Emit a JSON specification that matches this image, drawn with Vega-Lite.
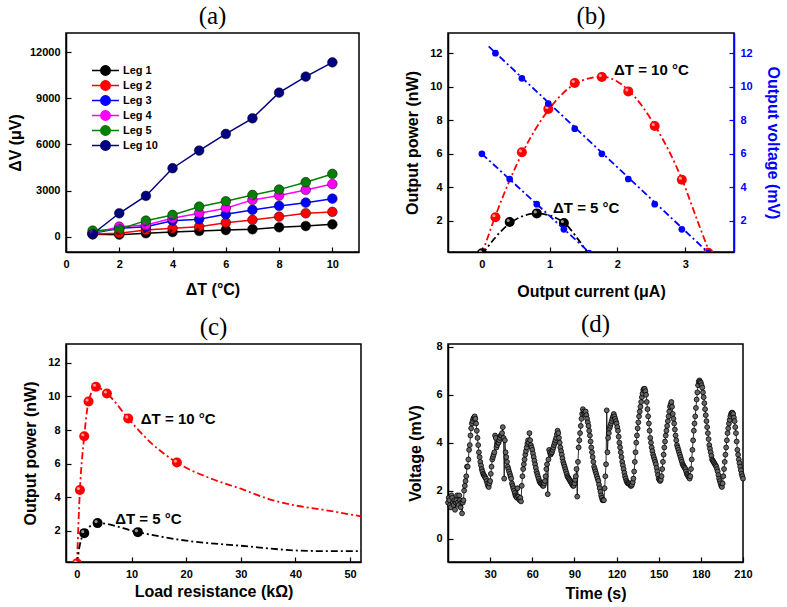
{
  "$schema": "https://vega.github.io/schema/vega-lite/v6.json",
  "padding": {"left": 6, "top": 3, "right": 5, "bottom": 5},
  "background": "white",
  "datasets": {
    "a": [
      {"dT":1,"dV":150,"leg":"Leg 1"},{"dT":2,"dV":130,"leg":"Leg 1"},{"dT":3,"dV":220,"leg":"Leg 1"},{"dT":4,"dV":300,"leg":"Leg 1"},{"dT":5,"dV":370,"leg":"Leg 1"},{"dT":6,"dV":430,"leg":"Leg 1"},{"dT":7,"dV":480,"leg":"Leg 1"},{"dT":8,"dV":610,"leg":"Leg 1"},{"dT":9,"dV":690,"leg":"Leg 1"},{"dT":10,"dV":800,"leg":"Leg 1"},
      {"dT":1,"dV":170,"leg":"Leg 2"},{"dT":2,"dV":220,"leg":"Leg 2"},{"dT":3,"dV":430,"leg":"Leg 2"},{"dT":4,"dV":540,"leg":"Leg 2"},{"dT":5,"dV":650,"leg":"Leg 2"},{"dT":6,"dV":910,"leg":"Leg 2"},{"dT":7,"dV":1090,"leg":"Leg 2"},{"dT":8,"dV":1300,"leg":"Leg 2"},{"dT":9,"dV":1520,"leg":"Leg 2"},{"dT":10,"dV":1610,"leg":"Leg 2"},
      {"dT":1,"dV":220,"leg":"Leg 3"},{"dT":2,"dV":540,"leg":"Leg 3"},{"dT":3,"dV":650,"leg":"Leg 3"},{"dT":4,"dV":1040,"leg":"Leg 3"},{"dT":5,"dV":1130,"leg":"Leg 3"},{"dT":6,"dV":1450,"leg":"Leg 3"},{"dT":7,"dV":1740,"leg":"Leg 3"},{"dT":8,"dV":2000,"leg":"Leg 3"},{"dT":9,"dV":2210,"leg":"Leg 3"},{"dT":10,"dV":2470,"leg":"Leg 3"},
      {"dT":1,"dV":220,"leg":"Leg 4"},{"dT":2,"dV":650,"leg":"Leg 4"},{"dT":3,"dV":760,"leg":"Leg 4"},{"dT":4,"dV":1190,"leg":"Leg 4"},{"dT":5,"dV":1520,"leg":"Leg 4"},{"dT":6,"dV":1850,"leg":"Leg 4"},{"dT":7,"dV":2390,"leg":"Leg 4"},{"dT":8,"dV":2670,"leg":"Leg 4"},{"dT":9,"dV":3040,"leg":"Leg 4"},{"dT":10,"dV":3420,"leg":"Leg 4"},
      {"dT":1,"dV":390,"leg":"Leg 5"},{"dT":2,"dV":480,"leg":"Leg 5"},{"dT":3,"dV":1040,"leg":"Leg 5"},{"dT":4,"dV":1410,"leg":"Leg 5"},{"dT":5,"dV":1950,"leg":"Leg 5"},{"dT":6,"dV":2300,"leg":"Leg 5"},{"dT":7,"dV":2710,"leg":"Leg 5"},{"dT":8,"dV":3060,"leg":"Leg 5"},{"dT":9,"dV":3540,"leg":"Leg 5"},{"dT":10,"dV":4080,"leg":"Leg 5"},
      {"dT":1,"dV":170,"leg":"Leg 10"},{"dT":2,"dV":1520,"leg":"Leg 10"},{"dT":3,"dV":2650,"leg":"Leg 10"},{"dT":4,"dV":4450,"leg":"Leg 10"},{"dT":5,"dV":5600,"leg":"Leg 10"},{"dT":6,"dV":6680,"leg":"Leg 10"},{"dT":7,"dV":7700,"leg":"Leg 10"},{"dT":8,"dV":9370,"leg":"Leg 10"},{"dT":9,"dV":10410,"leg":"Leg 10"},{"dT":10,"dV":11340,"leg":"Leg 10"}
    ],
    "bpts": [
      {"I":0.2,"y":2.22,"kind":"P","dT":"10"},{"I":0.59,"y":6.09,"kind":"P","dT":"10"},{"I":0.98,"y":8.67,"kind":"P","dT":"10"},{"I":1.37,"y":10.22,"kind":"P","dT":"10"},{"I":1.77,"y":10.58,"kind":"P","dT":"10"},{"I":2.16,"y":9.72,"kind":"P","dT":"10"},{"I":2.55,"y":7.66,"kind":"P","dT":"10"},{"I":2.95,"y":4.46,"kind":"P","dT":"10"},{"I":3.34,"y":0.1,"kind":"P","dT":"10"},
      {"I":0.0,"y":0.08,"kind":"P","dT":"5"},{"I":0.41,"y":1.94,"kind":"P","dT":"5"},{"I":0.81,"y":2.45,"kind":"P","dT":"5"},{"I":1.21,"y":1.88,"kind":"P","dT":"5"},
      {"I":0.2,"y":12.0,"kind":"V","dT":"10"},{"I":0.59,"y":10.5,"kind":"V","dT":"10"},{"I":0.98,"y":9.0,"kind":"V","dT":"10"},{"I":1.37,"y":7.5,"kind":"V","dT":"10"},{"I":1.77,"y":6.0,"kind":"V","dT":"10"},{"I":2.16,"y":4.5,"kind":"V","dT":"10"},{"I":2.55,"y":3.0,"kind":"V","dT":"10"},{"I":2.95,"y":1.5,"kind":"V","dT":"10"},{"I":3.34,"y":0.08,"kind":"V","dT":"10"},
      {"I":0.0,"y":6.0,"kind":"V","dT":"5"},{"I":0.41,"y":4.5,"kind":"V","dT":"5"},{"I":0.81,"y":3.0,"kind":"V","dT":"5"},{"I":1.21,"y":1.5,"kind":"V","dT":"5"},{"I":1.58,"y":0.08,"kind":"V","dT":"5"}
    ],
    "bfit": [
      {"I":0.0,"y":0.0,"kind":"P","dT":"10"},{"I":0.2,"y":2.3,"kind":"P","dT":"10"},{"I":0.59,"y":6.0,"kind":"P","dT":"10"},{"I":0.98,"y":8.6,"kind":"P","dT":"10"},{"I":1.37,"y":10.15,"kind":"P","dT":"10"},{"I":1.77,"y":10.6,"kind":"P","dT":"10"},{"I":2.16,"y":9.8,"kind":"P","dT":"10"},{"I":2.55,"y":7.7,"kind":"P","dT":"10"},{"I":2.95,"y":4.5,"kind":"P","dT":"10"},{"I":3.2,"y":1.8,"kind":"P","dT":"10"},{"I":3.37,"y":0.0,"kind":"P","dT":"10"},
      {"I":0.0,"y":0.0,"kind":"P","dT":"5"},{"I":0.41,"y":1.85,"kind":"P","dT":"5"},{"I":0.81,"y":2.45,"kind":"P","dT":"5"},{"I":1.21,"y":1.9,"kind":"P","dT":"5"},{"I":1.42,"y":0.9,"kind":"P","dT":"5"},{"I":1.58,"y":0.0,"kind":"P","dT":"5"},
      {"I":0.1,"y":12.4,"kind":"V","dT":"10"},{"I":3.37,"y":0.0,"kind":"V","dT":"10"},
      {"I":0.0,"y":6.0,"kind":"V","dT":"5"},{"I":1.62,"y":0.0,"kind":"V","dT":"5"}
    ],
    "blbl": [
      {"I":1.95,"y":11.0,"label":"ΔT = 10 °C"},
      {"I":1.05,"y":2.78,"label":"ΔT = 5 °C"}
    ],
    "cpts": [
      {"R":0.0,"P":0.05,"dT":"10"},{"R":0.55,"P":4.42,"dT":"10"},{"R":1.34,"P":7.63,"dT":"10"},{"R":2.13,"P":9.7,"dT":"10"},{"R":3.48,"P":10.58,"dT":"10"},{"R":5.49,"P":10.18,"dT":"10"},{"R":9.39,"P":8.69,"dT":"10"},{"R":18.3,"P":6.06,"dT":"10"},
      {"R":1.34,"P":1.85,"dT":"5"},{"R":3.78,"P":2.45,"dT":"5"},{"R":11.16,"P":1.91,"dT":"5"}
    ],
    "cfit": [
      {"R":0.0,"P":0.0,"dT":"10"},{"R":0.55,"P":4.42,"dT":"10"},{"R":1.34,"P":7.63,"dT":"10"},{"R":2.13,"P":9.7,"dT":"10"},{"R":3.48,"P":10.58,"dT":"10"},{"R":5.49,"P":10.18,"dT":"10"},{"R":9.39,"P":8.69,"dT":"10"},{"R":13.5,"P":7.25,"dT":"10"},{"R":18.3,"P":6.06,"dT":"10"},{"R":25,"P":5.05,"dT":"10"},{"R":30,"P":4.5,"dT":"10"},{"R":35,"P":3.9,"dT":"10"},{"R":40,"P":3.5,"dT":"10"},{"R":45,"P":3.25,"dT":"10"},{"R":52,"P":2.85,"dT":"10"},
      {"R":0.0,"P":0.0,"dT":"5"},{"R":0.5,"P":1.1,"dT":"5"},{"R":1.34,"P":1.85,"dT":"5"},{"R":3.78,"P":2.45,"dT":"5"},{"R":11.16,"P":1.91,"dT":"5"},{"R":20,"P":1.4,"dT":"5"},{"R":30,"P":1.1,"dT":"5"},{"R":40,"P":0.82,"dT":"5"},{"R":45,"P":0.78,"dT":"5"},{"R":52,"P":0.78,"dT":"5"}
    ],
    "clbl": [
      {"R":11.7,"P":8.67,"label":"ΔT = 10 °C"},
      {"R":7.0,"P":2.69,"label":"ΔT = 5 °C"}
    ],
    "d": [
      {"t":0,"v":1.5},{"t":0.5,"v":1.7},{"t":1,"v":1.6},{"t":1.5,"v":1.4},{"t":2,"v":1.3},{"t":2.5,"v":1.8},{"t":3,"v":1.7},{"t":3.5,"v":1.5},{"t":4,"v":1.4},{"t":4.5,"v":1.6},{"t":5,"v":1.2},{"t":5.5,"v":1.5},{"t":6,"v":1.6},{"t":6.5,"v":1.8},{"t":7,"v":1.5},{"t":7.5,"v":1.4},{"t":8,"v":1.8},{"t":8.5,"v":1.6},{"t":9,"v":1.3},{"t":9.5,"v":1.5},{"t":10,"v":1.05},{"t":10.5,"v":1.5},
      {"t":11,"v":1.6},{"t":11.5,"v":2.0},{"t":12,"v":2.2},{"t":12.5,"v":2.4},{"t":13,"v":2.6},{"t":13.5,"v":3.0},{"t":14,"v":3.0},{"t":14.5,"v":3.3},{"t":15,"v":3.7},{"t":15.5,"v":3.9},{"t":16,"v":4.3},{"t":16.5,"v":4.6},{"t":17,"v":4.8},{"t":17.5,"v":4.9},{"t":18,"v":5.0},{"t":18.5,"v":5.05},{"t":19,"v":5.1},{"t":19.5,"v":5.0},{"t":20,"v":4.8},{"t":20.5,"v":4.5},
      {"t":21,"v":4.2},{"t":21.5,"v":3.9},{"t":22,"v":3.6},{"t":22.5,"v":3.4},{"t":23,"v":3.2},{"t":23.5,"v":3.05},{"t":24,"v":2.9},{"t":24.5,"v":2.8},{"t":25,"v":2.7},{"t":25.5,"v":2.65},{"t":26,"v":2.6},{"t":26.5,"v":2.55},{"t":27,"v":2.5},{"t":27.5,"v":2.4},{"t":28,"v":2.3},{"t":28.5,"v":2.2},{"t":29,"v":2.15},{"t":29.5,"v":2.3},{"t":30,"v":2.4},{"t":30.5,"v":2.7},
      {"t":31,"v":3.0},{"t":31.5,"v":3.3},{"t":32,"v":3.4},{"t":32.5,"v":3.5},{"t":33,"v":3.6},{"t":33.5,"v":4.3},{"t":34,"v":4.2},{"t":34.5,"v":3.8},{"t":35,"v":3.9},{"t":35.5,"v":4.0},{"t":36,"v":4.0},{"t":36.5,"v":4.1},{"t":37,"v":4.2},{"t":37.5,"v":4.3},{"t":38,"v":4.3},{"t":38.5,"v":4.4},{"t":39,"v":4.65},{"t":39.5,"v":4.2},{"t":40,"v":2.5},{"t":40.5,"v":4.1},
      {"t":41,"v":3.6},{"t":41.5,"v":3.4},{"t":42,"v":3.2},{"t":42.5,"v":3.0},{"t":43,"v":2.9},{"t":43.5,"v":2.8},{"t":44,"v":2.7},{"t":44.5,"v":2.6},{"t":45,"v":2.5},{"t":45.5,"v":2.3},{"t":46,"v":2.2},{"t":46.5,"v":2.1},{"t":47,"v":2.0},{"t":47.5,"v":1.9},{"t":48,"v":1.8},{"t":48.5,"v":1.75},{"t":49,"v":1.7},{"t":49.5,"v":2.1},{"t":50,"v":1.75},{"t":50.5,"v":1.65},
      {"t":51,"v":1.6},{"t":51.5,"v":1.7},{"t":52,"v":1.55},{"t":52.5,"v":2.2},{"t":53,"v":2.6},{"t":53.5,"v":2.9},{"t":54,"v":3.1},{"t":54.5,"v":3.3},{"t":55,"v":3.5},{"t":55.5,"v":3.65},{"t":56,"v":3.8},{"t":56.5,"v":3.95},{"t":57,"v":4.1},{"t":57.5,"v":4.0},{"t":58,"v":4.4},{"t":58.5,"v":4.1},{"t":59,"v":3.9},{"t":59.5,"v":3.8},{"t":60,"v":3.7},{"t":60.5,"v":3.55},
      {"t":61,"v":3.4},{"t":61.5,"v":3.25},{"t":62,"v":3.1},{"t":62.5,"v":2.95},{"t":63,"v":2.8},{"t":63.5,"v":2.7},{"t":64,"v":2.6},{"t":64.5,"v":2.5},{"t":65,"v":2.4},{"t":65.5,"v":2.35},{"t":66,"v":2.3},{"t":66.5,"v":2.3},{"t":67,"v":2.25},{"t":67.5,"v":2.2},{"t":68,"v":2.2},{"t":68.5,"v":2.3},{"t":69,"v":2.4},{"t":69.5,"v":2.6},{"t":70,"v":2.9},{"t":70.5,"v":3.1},
      {"t":71,"v":1.85},{"t":71.5,"v":3.3},{"t":72,"v":3.7},{"t":72.5,"v":3.6},{"t":73,"v":3.5},{"t":73.5,"v":3.55},{"t":74,"v":3.6},{"t":74.5,"v":3.7},{"t":75,"v":3.8},{"t":75.5,"v":3.9},{"t":76,"v":4.0},{"t":76.5,"v":4.1},{"t":77,"v":4.2},{"t":77.5,"v":4.35},{"t":78,"v":4.5},{"t":78.5,"v":4.4},{"t":79,"v":4.2},{"t":79.5,"v":4.0},{"t":80,"v":3.8},{"t":80.5,"v":3.65},
      {"t":81,"v":3.5},{"t":81.5,"v":3.35},{"t":82,"v":3.2},{"t":82.5,"v":3.1},{"t":83,"v":3.0},{"t":83.5,"v":2.9},{"t":84,"v":2.8},{"t":84.5,"v":2.7},{"t":85,"v":2.6},{"t":85.5,"v":2.55},{"t":86,"v":2.5},{"t":86.5,"v":2.45},{"t":87,"v":2.4},{"t":87.5,"v":2.35},{"t":88,"v":2.3},{"t":88.5,"v":2.25},{"t":89,"v":2.2},{"t":89.5,"v":2.2},{"t":90,"v":2.3},{"t":90.5,"v":2.45},
      {"t":91,"v":2.6},{"t":91.5,"v":2.9},{"t":92,"v":1.75},{"t":92.5,"v":3.2},{"t":93,"v":3.8},{"t":93.5,"v":4.1},{"t":94,"v":4.4},{"t":94.5,"v":4.7},{"t":95,"v":5.0},{"t":95.5,"v":5.2},{"t":96,"v":5.4},{"t":96.5,"v":5.3},{"t":97,"v":5.2},{"t":97.5,"v":5.25},{"t":98,"v":5.3},{"t":98.5,"v":5.15},{"t":99,"v":5.0},{"t":99.5,"v":4.85},{"t":100,"v":4.7},{"t":100.5,"v":4.5},
      {"t":101,"v":4.3},{"t":101.5,"v":4.05},{"t":102,"v":3.8},{"t":102.5,"v":3.6},{"t":103,"v":3.4},{"t":103.5,"v":3.2},{"t":104,"v":3.0},{"t":104.5,"v":2.9},{"t":105,"v":2.8},{"t":105.5,"v":2.7},{"t":106,"v":2.6},{"t":106.5,"v":2.5},{"t":107,"v":2.4},{"t":107.5,"v":2.25},{"t":108,"v":2.1},{"t":108.5,"v":1.95},{"t":109,"v":1.8},{"t":109.5,"v":1.7},{"t":110,"v":1.6},{"t":110.5,"v":1.6},
      {"t":111,"v":1.6},{"t":111.5,"v":2.1},{"t":112,"v":2.6},{"t":112.5,"v":3.1},{"t":113,"v":5.35},{"t":113.5,"v":3.6},{"t":114,"v":4.2},{"t":114.5,"v":4.4},{"t":115,"v":4.6},{"t":115.5,"v":4.7},{"t":116,"v":4.8},{"t":116.5,"v":4.9},{"t":117,"v":5.0},{"t":117.5,"v":5.1},{"t":118,"v":5.2},{"t":118.5,"v":5.1},{"t":119,"v":5.0},{"t":119.5,"v":4.9},{"t":120,"v":4.8},{"t":120.5,"v":4.65},
      {"t":121,"v":4.5},{"t":121.5,"v":4.25},{"t":122,"v":4.0},{"t":122.5,"v":3.8},{"t":123,"v":3.6},{"t":123.5,"v":3.4},{"t":124,"v":3.2},{"t":124.5,"v":3.05},{"t":125,"v":2.9},{"t":125.5,"v":2.75},{"t":126,"v":2.6},{"t":126.5,"v":2.5},{"t":127,"v":2.4},{"t":127.5,"v":2.35},{"t":128,"v":2.3},{"t":128.5,"v":2.3},{"t":129,"v":2.3},{"t":129.5,"v":2.25},{"t":130,"v":2.2},{"t":130.5,"v":2.2},
      {"t":131,"v":2.25},{"t":131.5,"v":2.35},{"t":132,"v":2.5},{"t":132.5,"v":2.8},{"t":133,"v":3.2},{"t":133.5,"v":3.6},{"t":134,"v":4.0},{"t":134.5,"v":4.3},{"t":135,"v":4.6},{"t":135.5,"v":4.85},{"t":136,"v":5.1},{"t":136.5,"v":5.3},{"t":137,"v":5.5},{"t":137.5,"v":5.7},{"t":138,"v":5.9},{"t":138.5,"v":6.05},{"t":139,"v":6.2},{"t":139.5,"v":6.25},{"t":140,"v":6.25},{"t":140.5,"v":6.15},
      {"t":141,"v":6.0},{"t":141.5,"v":5.7},{"t":142,"v":5.4},{"t":142.5,"v":5.1},{"t":143,"v":4.8},{"t":143.5,"v":4.5},{"t":144,"v":4.2},{"t":144.5,"v":4.0},{"t":145,"v":3.8},{"t":145.5,"v":3.65},{"t":146,"v":3.5},{"t":146.5,"v":3.4},{"t":147,"v":3.3},{"t":147.5,"v":3.2},{"t":148,"v":3.1},{"t":148.5,"v":2.95},{"t":149,"v":2.8},{"t":149.5,"v":2.65},{"t":150,"v":2.5},{"t":150.5,"v":2.45},
      {"t":151,"v":2.4},{"t":151.5,"v":2.45},{"t":152,"v":2.6},{"t":152.5,"v":2.9},{"t":153,"v":3.2},{"t":153.5,"v":3.5},{"t":154,"v":3.8},{"t":154.5,"v":4.05},{"t":155,"v":4.3},{"t":155.5,"v":4.5},{"t":156,"v":4.7},{"t":156.5,"v":4.9},{"t":157,"v":5.1},{"t":157.5,"v":5.3},{"t":158,"v":5.5},{"t":158.5,"v":5.6},{"t":159,"v":5.7},{"t":159.5,"v":5.5},{"t":160,"v":5.2},{"t":160.5,"v":5.0},
      {"t":161,"v":4.8},{"t":161.5,"v":4.55},{"t":162,"v":4.3},{"t":162.5,"v":4.1},{"t":163,"v":3.9},{"t":163.5,"v":3.8},{"t":164,"v":3.7},{"t":164.5,"v":3.6},{"t":165,"v":3.5},{"t":165.5,"v":3.4},{"t":166,"v":3.3},{"t":166.5,"v":3.2},{"t":167,"v":3.1},{"t":167.5,"v":3.05},{"t":168,"v":3.0},{"t":168.5,"v":2.95},{"t":169,"v":2.9},{"t":169.5,"v":2.8},{"t":170,"v":2.7},{"t":170.5,"v":2.65},
      {"t":171,"v":2.6},{"t":171.5,"v":2.55},{"t":172,"v":2.5},{"t":172.5,"v":2.6},{"t":173,"v":2.9},{"t":173.5,"v":3.3},{"t":174,"v":3.7},{"t":174.5,"v":4.1},{"t":175,"v":4.5},{"t":175.5,"v":4.8},{"t":176,"v":5.1},{"t":176.5,"v":5.45},{"t":177,"v":5.8},{"t":177.5,"v":6.1},{"t":178,"v":6.4},{"t":178.5,"v":6.55},{"t":179,"v":6.6},{"t":179.5,"v":6.55},{"t":180,"v":6.5},{"t":180.5,"v":6.4},
      {"t":181,"v":6.3},{"t":181.5,"v":6.1},{"t":182,"v":5.9},{"t":182.5,"v":5.65},{"t":183,"v":5.4},{"t":183.5,"v":5.15},{"t":184,"v":4.9},{"t":184.5,"v":4.65},{"t":185,"v":4.4},{"t":185.5,"v":4.15},{"t":186,"v":3.9},{"t":186.5,"v":3.75},{"t":187,"v":3.6},{"t":187.5,"v":3.45},{"t":188,"v":3.3},{"t":188.5,"v":3.25},{"t":189,"v":3.2},{"t":189.5,"v":3.15},{"t":190,"v":3.1},{"t":190.5,"v":3.05},
      {"t":191,"v":3.0},{"t":191.5,"v":2.9},{"t":192,"v":2.8},{"t":192.5,"v":2.65},{"t":193,"v":2.5},{"t":193.5,"v":2.4},{"t":194,"v":2.3},{"t":194.5,"v":2.2},{"t":195,"v":2.15},{"t":195.5,"v":2.3},{"t":196,"v":2.6},{"t":196.5,"v":2.9},{"t":197,"v":3.2},{"t":197.5,"v":3.5},{"t":198,"v":3.8},{"t":198.5,"v":4.1},{"t":199,"v":4.4},{"t":199.5,"v":4.6},{"t":200,"v":4.8},{"t":200.5,"v":4.95},
      {"t":201,"v":5.1},{"t":201.5,"v":5.2},{"t":202,"v":5.25},{"t":202.5,"v":5.25},{"t":203,"v":5.2},{"t":203.5,"v":5.05},{"t":204,"v":4.9},{"t":204.5,"v":4.65},{"t":205,"v":4.4},{"t":205.5,"v":4.05},{"t":206,"v":3.7},{"t":206.5,"v":3.5},{"t":207,"v":3.3},{"t":207.5,"v":3.15},{"t":208,"v":3.0},{"t":208.5,"v":2.85},{"t":209,"v":2.7},{"t":209.5,"v":2.6},{"t":210,"v":2.5}
    ]
  },
  "config": {
    "view": {"stroke": "black", "strokeWidth": 1.5},
    "axis": {
      "labelFont": "Liberation Sans", "labelFontWeight": "bold", "labelFontSize": 11, "labelColor": "black",
      "titleFont": "Liberation Sans", "titleFontWeight": "bold", "titleFontSize": 16, "titleColor": "black",
      "domainColor": "black", "domainWidth": 1.5, "tickColor": "black", "tickSize": -5, "tickWidth": 1.2,
      "grid": false, "labelPadding": 11, "labelFlush": false, "labelOverlap": false
    },
    "title": {"font": "Liberation Serif", "fontSize": 25, "fontWeight": "normal", "color": "black", "offset": 4},
    "text": {"font": "Liberation Sans", "fontWeight": "bold", "fontSize": 15}
  },
  "columns": 2,
  "spacing": {"row": 92, "column": 87},
  "bounds": "flush",
  "resolve": {"scale": {"color": "independent"}},
  "concat": [
        {
          "title": "(a)",
          "width": 293, "height": 219,
          "data": {"name": "a"},
          "encoding": {
            "x": {"field": "dT", "type": "quantitative", "scale": {"domain": [0, 11], "nice": false, "zero": false}, "axis": {"values": [0,2,4,6,8,10], "title": "ΔT (°C)", "titlePadding": 12}},
            "y": {"field": "dV", "type": "quantitative", "scale": {"domain": [-1000, 13250], "nice": false, "zero": false}, "axis": {"values": [0,3000,6000,9000,12000], "format": "d", "title": "ΔV (μV)", "titlePadding": 6}},
            "color": {
              "field": "leg", "type": "nominal",
              "scale": {"domain": ["Leg 1","Leg 2","Leg 3","Leg 4","Leg 5","Leg 10"], "range": ["#000000","#ff0000","#0000ff","#ff00ff","#008000","#000080"]},
              "legend": {
                "orient": "none", "legendX": 33, "legendY": 31, "title": null, "padding": 0,
                "symbolType": "M-2.46,0H2.46M0.86,0A0.86,0.86,0,1,1,-0.86,0A0.86,0.86,0,1,1,0.86,0Z",
                "symbolSize": 120, "symbolStrokeWidth": 1.5,
                "labelFont": "Liberation Sans", "labelFontWeight": "bold", "labelFontSize": 11, "labelColor": "black",
                "labelOffset": 11, "rowPadding": -2.6,
                "encode": {"symbols": {"update": {"fill": {"scale": "color", "field": "value"}, "stroke": {"scale": "color", "field": "value"}, "opacity": {"value": 1}}}}
              }
            }
          },
          "layer": [
            {"mark": {"type": "line", "strokeWidth": 1.5}},
            {"mark": {"type": "point", "filled": true, "size": 95, "opacity": 1, "stroke": "#111111", "strokeWidth": 0.5}},
            {"mark": {"type": "point", "filled": true, "size": 10, "opacity": 0.6, "color": "white", "xOffset": -1.5, "yOffset": -1.5}}
          ]
        },
        {
          "title": "(b)",
          "width": 286, "height": 219,
          "layer": [
            {
              "layer": [
                {
                  "data": {"name": "bfit"},
                  "transform": [{"filter": "datum.kind == 'P'"}],
                  "mark": {"type": "line", "strokeDash": [7,3,2,3], "strokeWidth": 1.8, "clip": true, "interpolate": "monotone"},
                  "encoding": {
                    "x": {"field": "I", "type": "quantitative", "scale": {"domain": [-0.5, 3.72], "nice": false, "zero": false}, "axis": {"values": [0,1,2,3], "format": "d", "title": "Output current (μA)", "titlePadding": 14}},
                    "y": {"field": "y", "type": "quantitative", "scale": {"domain": [0.15, 13.2], "nice": false, "zero": false}, "axis": {"values": [2,4,6,8,10,12], "title": "Output power (nW)", "titlePadding": 9}},
                    "color": {"field": "dT", "type": "nominal", "scale": {"domain": ["10","5"], "range": ["#ff0000","#000000"]}, "legend": null}
                  }
                },
                {
                  "data": {"name": "bpts"},
                  "transform": [{"filter": "datum.kind == 'P'"}],
                  "mark": {"type": "point", "filled": true, "size": 100, "opacity": 1, "clip": true},
                  "encoding": {
                    "x": {"field": "I", "type": "quantitative"},
                    "y": {"field": "y", "type": "quantitative"},
                    "color": {"field": "dT", "type": "nominal", "scale": {"domain": ["10","5"], "range": ["#ff0000","#000000"]}, "legend": null}
                  }
                },
                {
                  "data": {"name": "bpts"},
                  "transform": [{"filter": "datum.kind == 'P'"}],
                  "mark": {"type": "point", "filled": true, "size": 10, "opacity": 0.6, "color": "white", "xOffset": -1.5, "yOffset": -1.5, "clip": true},
                  "encoding": {
                    "x": {"field": "I", "type": "quantitative"},
                    "y": {"field": "y", "type": "quantitative"}
                  }
                },
                {
                  "data": {"name": "blbl"},
                  "mark": {"type": "text", "align": "left", "baseline": "middle", "color": "black"},
                  "encoding": {
                    "x": {"field": "I", "type": "quantitative"},
                    "y": {"field": "y", "type": "quantitative"},
                    "text": {"field": "label"}
                  }
                }
              ]
            },
            {
              "layer": [
                {
                  "data": {"name": "bfit"},
                  "transform": [{"filter": "datum.kind == 'V'"}],
                  "mark": {"type": "line", "strokeDash": [7,3,2,3], "strokeWidth": 1.8, "clip": true, "color": "#0000ff"},
                  "encoding": {
                    "x": {"field": "I", "type": "quantitative"},
                    "y": {"field": "y", "type": "quantitative", "scale": {"domain": [0.15, 13.2], "nice": false, "zero": false}, "axis": {"orient": "right", "values": [2,4,6,8,10,12], "title": "Output voltage (mV)", "titleColor": "#0000ff", "labelColor": "#0000ff", "domainColor": "#0000ff", "tickColor": "#0000ff", "titlePadding": 12}},
                    "detail": {"field": "dT"}
                  }
                },
                {
                  "data": {"name": "bpts"},
                  "transform": [{"filter": "datum.kind == 'V'"}],
                  "mark": {"type": "point", "filled": true, "size": 45, "opacity": 1, "color": "#0000ff", "clip": true},
                  "encoding": {
                    "x": {"field": "I", "type": "quantitative"},
                    "y": {"field": "y", "type": "quantitative"}
                  }
                }
              ]
            }
          ],
          "resolve": {"scale": {"y": "independent"}}
        },
        {
          "title": "(c)",
          "width": 295, "height": 218,
          "layer": [
            {
              "data": {"name": "cfit"},
              "mark": {"type": "line", "strokeDash": [7,3,2,3], "strokeWidth": 1.8, "clip": true, "interpolate": "monotone"},
              "encoding": {
                "x": {"field": "R", "type": "quantitative", "scale": {"domain": [-2, 52], "nice": false, "zero": false}, "axis": {"values": [0,10,20,30,40,50], "title": "Load resistance (kΩ)", "titlePadding": 4}},
                "y": {"field": "P", "type": "quantitative", "scale": {"domain": [0.13, 13.13], "nice": false, "zero": false}, "axis": {"values": [2,4,6,8,10,12], "title": "Output power (nW)", "titlePadding": 9}},
                "color": {"field": "dT", "type": "nominal", "scale": {"domain": ["10","5"], "range": ["#ff0000","#000000"]}, "legend": null}
              }
            },
            {
              "data": {"name": "cpts"},
              "mark": {"type": "point", "filled": true, "size": 100, "opacity": 1, "clip": true},
              "encoding": {
                "x": {"field": "R", "type": "quantitative"},
                "y": {"field": "P", "type": "quantitative"},
                "color": {"field": "dT", "type": "nominal", "scale": {"domain": ["10","5"], "range": ["#ff0000","#000000"]}, "legend": null}
              }
            },
            {
              "data": {"name": "cpts"},
              "mark": {"type": "point", "filled": true, "size": 10, "opacity": 0.6, "color": "white", "xOffset": -1.5, "yOffset": -1.5, "clip": true},
              "encoding": {
                "x": {"field": "R", "type": "quantitative"},
                "y": {"field": "P", "type": "quantitative"}
              }
            },
            {
              "data": {"name": "clbl"},
              "mark": {"type": "text", "align": "left", "baseline": "middle", "color": "black"},
              "encoding": {
                "x": {"field": "R", "type": "quantitative"},
                "y": {"field": "P", "type": "quantitative"},
                "text": {"field": "label"}
              }
            }
          ]
        },
        {
          "title": "(d)",
          "width": 295, "height": 218,
          "data": {"name": "d"},
          "encoding": {
            "x": {"field": "t", "type": "quantitative", "scale": {"domain": [0, 210], "nice": false, "zero": false}, "axis": {"values": [30,60,90,120,150,180,210], "title": "Time (s)", "titlePadding": 6}},
            "y": {"field": "v", "type": "quantitative", "scale": {"domain": [-0.98, 8.12], "nice": false, "zero": false}, "axis": {"values": [0,2,4,6,8], "title": "Voltage (mV)", "titlePadding": 12}}
          },
          "layer": [
            {"mark": {"type": "line", "color": "black", "strokeWidth": 0.8}},
            {"mark": {"type": "point", "filled": true, "size": 24, "opacity": 1, "fill": "#666666", "stroke": "#000000", "strokeWidth": 0.8}}
          ]
        }
  ]
}
